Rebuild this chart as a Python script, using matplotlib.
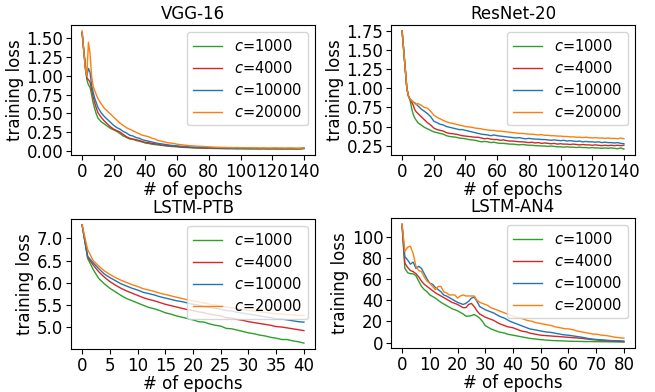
import matplotlib
matplotlib.use("Agg")
import matplotlib.pyplot as plt

labels = ["$c$=1000", "$c$=4000", "$c$=10000", "$c$=20000"]
colors = ["#2ca02c", "#d62728", "#1f77b4", "#ff7f0e"]

epochs_cifar = list(range(0, 11)) + list(range(12, 141, 2))
epochs_ptb = list(range(0, 41))
epochs_an4 = list(range(0, 81))

vgg_c1000 = [1.58, 1.35, 1.15, 0.95, 0.88, 0.85, 0.75, 0.64, 0.56, 0.49, 0.44,
             0.39, 0.36, 0.33, 0.30, 0.28, 0.26, 0.23, 0.20, 0.18, 0.16,
             0.155, 0.14, 0.13, 0.12, 0.105, 0.10, 0.09, 0.085, 0.08, 0.075,
             0.07, 0.065, 0.06, 0.058, 0.055, 0.05, 0.048, 0.046, 0.044, 0.042,
             0.04, 0.039, 0.038, 0.036, 0.035, 0.034, 0.033, 0.033, 0.032, 0.031,
             0.03, 0.031, 0.03, 0.029, 0.03, 0.029, 0.028, 0.029, 0.028, 0.028,
             0.027, 0.028, 0.027, 0.027, 0.028, 0.026, 0.027, 0.026, 0.027, 0.026,
             0.027, 0.026, 0.025, 0.026, 0.03]
vgg_c4000 = [1.58, 1.35, 1.15, 0.97, 0.95, 0.92, 0.82, 0.72, 0.64, 0.57, 0.51,
             0.45, 0.40, 0.36, 0.32, 0.29, 0.27, 0.25, 0.22, 0.19, 0.17,
             0.16, 0.15, 0.14, 0.125, 0.115, 0.11, 0.10, 0.095, 0.09, 0.08,
             0.075, 0.07, 0.068, 0.063, 0.06, 0.055, 0.052, 0.05, 0.048, 0.045,
             0.043, 0.042, 0.04, 0.039, 0.038, 0.037, 0.036, 0.035, 0.034, 0.034,
             0.033, 0.033, 0.032, 0.032, 0.031, 0.032, 0.031, 0.03, 0.031, 0.03,
             0.03, 0.031, 0.03, 0.029, 0.03, 0.03, 0.029, 0.03, 0.029, 0.03,
             0.03, 0.029, 0.03, 0.031, 0.035]
vgg_c10000 = [1.58, 1.35, 1.1, 1.0, 1.1, 1.05, 0.88, 0.78, 0.70, 0.64, 0.58,
              0.51, 0.46, 0.42, 0.38, 0.34, 0.31, 0.29, 0.26, 0.24, 0.21,
              0.20, 0.18, 0.17, 0.15, 0.14, 0.13, 0.12, 0.11, 0.10, 0.095,
              0.088, 0.082, 0.076, 0.072, 0.068, 0.064, 0.06, 0.057, 0.055, 0.052,
              0.05, 0.048, 0.046, 0.045, 0.044, 0.042, 0.041, 0.04, 0.039, 0.038,
              0.037, 0.036, 0.037, 0.035, 0.036, 0.035, 0.034, 0.035, 0.034, 0.035,
              0.034, 0.035, 0.034, 0.033, 0.034, 0.035, 0.034, 0.033, 0.034, 0.035,
              0.034, 0.033, 0.034, 0.035, 0.04]
vgg_c20000 = [1.60, 1.35, 1.1, 1.0, 1.45, 1.3, 1.0, 0.86, 0.80, 0.75, 0.70,
              0.63, 0.57, 0.53, 0.49, 0.45, 0.41, 0.37, 0.34, 0.31, 0.29,
              0.27, 0.25, 0.23, 0.21, 0.20, 0.19, 0.17, 0.16, 0.14, 0.13,
              0.12, 0.11, 0.105, 0.10, 0.09, 0.085, 0.08, 0.075, 0.07, 0.068,
              0.065, 0.062, 0.06, 0.058, 0.055, 0.053, 0.05, 0.05, 0.048, 0.047,
              0.046, 0.045, 0.044, 0.045, 0.043, 0.044, 0.042, 0.043, 0.041, 0.042,
              0.04, 0.041, 0.04, 0.039, 0.04, 0.041, 0.039, 0.04, 0.038, 0.039,
              0.04, 0.038, 0.036, 0.037, 0.04]

res_c1000 = [1.75, 1.5, 1.25, 1.0, 0.9, 0.85, 0.74, 0.66, 0.61, 0.58, 0.55,
             0.52, 0.49, 0.47, 0.45, 0.43, 0.42, 0.41, 0.40, 0.38, 0.37,
             0.365, 0.36, 0.35, 0.345, 0.34, 0.33, 0.325, 0.32, 0.31, 0.30,
             0.305, 0.30, 0.29, 0.295, 0.285, 0.28, 0.28, 0.275, 0.27, 0.27,
             0.265, 0.26, 0.265, 0.26, 0.255, 0.255, 0.25, 0.25, 0.245, 0.245,
             0.24, 0.245, 0.24, 0.235, 0.235, 0.23, 0.235, 0.23, 0.23, 0.225,
             0.23, 0.225, 0.225, 0.22, 0.225, 0.22, 0.22, 0.215, 0.22, 0.215,
             0.22, 0.215, 0.21, 0.22, 0.205]
res_c4000 = [1.75, 1.5, 1.25, 1.0, 0.9, 0.85, 0.82, 0.78, 0.72, 0.69, 0.67,
             0.63, 0.59, 0.55, 0.52, 0.48, 0.46, 0.45, 0.44, 0.42, 0.41,
             0.405, 0.40, 0.39, 0.38, 0.375, 0.37, 0.365, 0.36, 0.36, 0.35,
             0.34, 0.345, 0.335, 0.33, 0.33, 0.32, 0.325, 0.315, 0.31, 0.31,
             0.305, 0.30, 0.30, 0.295, 0.29, 0.295, 0.285, 0.29, 0.28, 0.285,
             0.28, 0.275, 0.28, 0.27, 0.275, 0.27, 0.27, 0.265, 0.27, 0.265,
             0.26, 0.265, 0.26, 0.26, 0.255, 0.26, 0.255, 0.25, 0.255, 0.25,
             0.255, 0.25, 0.255, 0.25, 0.255]
res_c10000 = [1.75, 1.5, 1.25, 1.0, 0.9, 0.86, 0.84, 0.82, 0.81, 0.79, 0.77,
              0.73, 0.70, 0.67, 0.63, 0.57, 0.55, 0.53, 0.52, 0.50, 0.49,
              0.48, 0.47, 0.46, 0.46, 0.45, 0.44, 0.43, 0.42, 0.41, 0.40,
              0.395, 0.39, 0.38, 0.39, 0.38, 0.375, 0.37, 0.365, 0.36, 0.355,
              0.35, 0.355, 0.345, 0.34, 0.345, 0.34, 0.335, 0.335, 0.33, 0.33,
              0.325, 0.32, 0.325, 0.32, 0.315, 0.32, 0.31, 0.315, 0.31, 0.305,
              0.31, 0.30, 0.305, 0.30, 0.30, 0.295, 0.30, 0.29, 0.295, 0.29,
              0.29, 0.285, 0.29, 0.28, 0.275]
res_c20000 = [1.75, 1.5, 1.25, 1.0, 0.9, 0.86, 0.84, 0.82, 0.80, 0.79, 0.80,
              0.78, 0.75, 0.74, 0.70, 0.65, 0.62, 0.60, 0.58, 0.56, 0.55,
              0.54, 0.53, 0.52, 0.51, 0.50, 0.495, 0.49, 0.48, 0.475, 0.47,
              0.46, 0.455, 0.45, 0.45, 0.44, 0.44, 0.435, 0.43, 0.425, 0.42,
              0.415, 0.41, 0.41, 0.405, 0.40, 0.40, 0.395, 0.39, 0.395, 0.385,
              0.385, 0.38, 0.38, 0.375, 0.375, 0.37, 0.37, 0.365, 0.365, 0.36,
              0.36, 0.355, 0.36, 0.355, 0.35, 0.355, 0.35, 0.35, 0.345, 0.35,
              0.345, 0.345, 0.34, 0.35, 0.34]

ptb_c1000 = [7.3, 6.55, 6.3, 6.1, 5.98, 5.88, 5.8, 5.72, 5.65, 5.6,
             5.55, 5.5, 5.45, 5.42, 5.38, 5.33, 5.3, 5.26, 5.23, 5.2,
             5.17, 5.13, 5.12, 5.08, 5.05, 5.03, 4.98, 4.97, 4.94, 4.91,
             4.88, 4.86, 4.83, 4.81, 4.78, 4.76, 4.73, 4.73, 4.7, 4.68, 4.65]
ptb_c4000 = [7.3, 6.58, 6.4, 6.25, 6.13, 6.03, 5.95, 5.88, 5.82, 5.77,
             5.72, 5.67, 5.63, 5.6, 5.56, 5.52, 5.49, 5.46, 5.43, 5.4,
             5.38, 5.35, 5.33, 5.3, 5.28, 5.26, 5.22, 5.21, 5.18, 5.16,
             5.13, 5.11, 5.09, 5.07, 5.05, 5.02, 5.01, 4.99, 4.97, 4.95, 4.93]
ptb_c10000 = [7.3, 6.6, 6.45, 6.32, 6.2, 6.12, 6.05, 5.98, 5.93, 5.88,
              5.84, 5.79, 5.76, 5.73, 5.69, 5.66, 5.63, 5.6, 5.58, 5.55,
              5.52, 5.5, 5.47, 5.45, 5.43, 5.41, 5.38, 5.37, 5.34, 5.32,
              5.3, 5.28, 5.26, 5.24, 5.22, 5.19, 5.19, 5.17, 5.15, 5.13, 5.12]
ptb_c20000 = [7.3, 6.75, 6.5, 6.38, 6.27, 6.19, 6.12, 6.06, 6.01, 5.96,
              5.92, 5.87, 5.84, 5.81, 5.77, 5.74, 5.71, 5.68, 5.65, 5.62,
              5.6, 5.57, 5.55, 5.52, 5.5, 5.48, 5.46, 5.44, 5.42, 5.4,
              5.38, 5.37, 5.35, 5.34, 5.32, 5.31, 5.3, 5.29, 5.28, 5.27, 5.27]

an4_c1000 = [110, 70, 66, 65, 65, 63, 58, 53, 50, 48,
             45, 43.5, 42, 40, 38, 36.5, 35, 33.5, 32, 31,
             30, 28.5, 27, 25, 25, 25.5, 26.5, 25, 23, 20,
             16, 14.5, 13, 12, 11, 10, 9.5, 9, 8, 7.5,
             7, 6.5, 6, 5.5, 5, 4.5, 4, 3.7, 3.4, 3.1,
             2.8, 2.6, 2.4, 2.2, 2, 1.9, 1.8, 1.7, 1.6, 1.5,
             1.4, 1.3, 1.2, 1.2, 1.1, 1.1, 1, 1, 1, 0.9,
             0.9, 0.9, 0.8, 0.8, 0.8, 0.7, 0.7, 0.7, 0.6, 0.6, 0.5]
an4_c4000 = [110, 75, 71, 68, 67, 65, 62, 58, 55, 53,
             51, 49, 47, 45.5, 44, 42.5, 41, 39.5, 38, 37,
             36, 34.5, 33, 33, 36, 37, 34, 30, 27, 25.5,
             24, 23, 22, 21, 19.5, 18, 17, 16, 15, 14.5,
             14, 13, 12, 11, 10.5, 10, 9, 8.5, 8, 7.5,
             7, 6.8, 6.6, 6.4, 6.2, 6, 5.8, 5.6, 5.4, 5.2,
             5, 4.8, 4.6, 4.4, 4.2, 4, 3.6, 3.3, 3, 2.7,
             2.5, 2.3, 2.1, 1.9, 1.7, 1.5, 1.4, 1.3, 1.2, 1.1, 1]
an4_c10000 = [112, 81, 78, 74, 76, 70, 72, 70, 65, 60,
              56, 55, 52, 50, 48, 45, 44, 42.5, 41, 39.5,
              38, 37, 36, 37, 39, 42, 43, 39, 34, 32.5,
              31, 30, 29, 28, 26.5, 25, 24, 23, 21.5, 20,
              19, 18, 17, 16, 15, 14, 13, 12.5, 12, 11.5,
              11, 10.5, 10, 9.8, 9.5, 9, 8.5, 8, 7.5, 7.2,
              7, 6.6, 6.2, 5.8, 5.4, 5, 4.5, 4, 3.6, 3.3,
              3, 2.8, 2.6, 2.4, 2.2, 2, 1.9, 1.8, 1.7, 1.6, 1.5]
an4_c20000 = [111, 86, 90, 91, 84, 72, 68, 67, 62, 58,
              56, 53, 50, 53, 53, 48, 47, 45, 45, 45,
              42, 44, 45, 44, 44, 44, 44, 40, 38, 37,
              36, 35, 33, 32, 31, 30, 29, 28, 27, 26,
              25, 24, 23.5, 23, 22, 21, 20.5, 20, 19, 18.5,
              18, 17.5, 17, 16.5, 16, 15, 14.5, 14, 13.5, 13,
              13, 12.5, 12, 11, 10.5, 10, 9.5, 9, 8.5, 8,
              8, 7.5, 7, 6.8, 6.5, 6, 5.5, 5, 4.8, 4.5, 4.2]

panels = [
    ("VGG-16", epochs_cifar, [vgg_c1000, vgg_c4000, vgg_c10000, vgg_c20000],
     [0, 20, 40, 60, 80, 100, 120, 140], [0.0, 0.25, 0.5, 0.75, 1.0, 1.25, 1.5], "{:.2f}"),
    ("ResNet-20", epochs_cifar, [res_c1000, res_c4000, res_c10000, res_c20000],
     [0, 20, 40, 60, 80, 100, 120, 140], [0.25, 0.5, 0.75, 1.0, 1.25, 1.5, 1.75], "{:.2f}"),
    ("LSTM-PTB", epochs_ptb, [ptb_c1000, ptb_c4000, ptb_c10000, ptb_c20000],
     [0, 5, 10, 15, 20, 25, 30, 35, 40], [5.0, 5.5, 6.0, 6.5, 7.0], "{:.1f}"),
    ("LSTM-AN4", epochs_an4, [an4_c1000, an4_c4000, an4_c10000, an4_c20000],
     [0, 10, 20, 30, 40, 50, 60, 70, 80], [0, 20, 40, 60, 80, 100], "{:.0f}"),
]

W, H = 655, 392
boxes = [(71, 25, 244, 130), (391, 25, 244, 130), (71, 219, 244, 130), (391, 218, 244, 130)]
positions = [[l / W, 1 - (t + h) / H, w / W, h / H] for (l, t, w, h) in boxes]

fig = plt.figure(figsize=(6.55, 3.92), dpi=100)
for (title, xs, series, xt, yt, fmt), pos in zip(panels, positions):
    ax = fig.add_axes(pos)
    for ys, lab, col in zip(series, labels, colors):
        ax.plot(xs, ys, color=col, lw=1.0, label=lab)
    ax.set_title(title, fontsize=12, pad=4)
    ax.set_xlabel("# of epochs", fontsize=12, labelpad=0)
    ax.set_ylabel("training loss", fontsize=12, labelpad=2)
    ax.set_xticks(xt)
    ax.set_yticks(yt)
    ax.set_yticklabels([fmt.format(v) for v in yt])
    ax.tick_params(labelsize=12, pad=2)
    ax.legend(loc="upper right", fontsize=10.5, labelspacing=0.4)

fig.savefig("out.png", dpi=100)
